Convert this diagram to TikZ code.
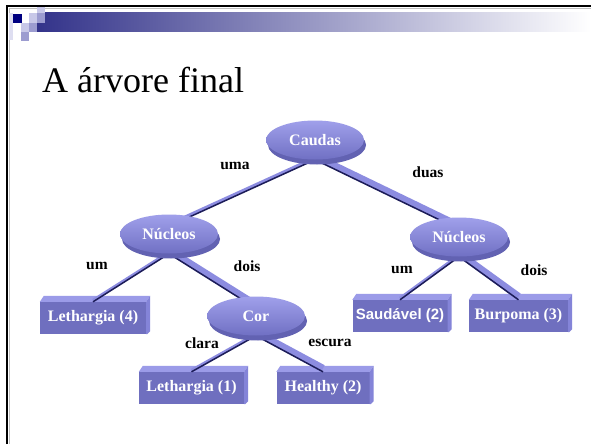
\documentclass[tikz,border=0pt]{standalone}
\usepackage{fontspec}
\setmainfont{Liberation Serif}
\newfontfamily\arialfont{Liberation Sans}
\usetikzlibrary{shapes.geometric,shadows}

\pgfdeclarelayer{paper}
\pgfdeclarelayer{boxes}
\pgfdeclarelayer{branches}
\pgfsetlayers{paper,boxes,branches,main}

\definecolor{headnavy}{HTML}{000080}
\definecolor{headlight}{HTML}{C8C8E8}
\definecolor{headmid}{HTML}{9C9CD0}
\definecolor{boxfront}{HTML}{6F6FBF}
\definecolor{boxtop}{HTML}{9B9BE8}
\definecolor{boxside}{HTML}{8484D8}
\definecolor{elltop}{HTML}{A0A0EA}
\definecolor{ellbot}{HTML}{7070C4}
\definecolor{ellrim}{HTML}{6262B2}
\definecolor{barlightc}{HTML}{8C8CE0}
\definecolor{bardarkc}{HTML}{1C1C58}

\tikzset{
  ellnode/.style={ellipse, minimum width=98pt, minimum height=39pt, inner sep=0pt,
    top color=elltop, bottom color=ellbot, text=white,
    font=\bfseries\fontsize{16}{18}\selectfont,
    drop shadow={shadow xshift=2pt, shadow yshift=-5pt, opacity=1, fill=ellrim}},
  leaf/.style={rectangle, fill=boxfront, text=white, minimum height=32pt, inner sep=0pt,
    font=\bfseries\fontsize{16}{18}\selectfont},
  lbl/.style={font=\bfseries\fontsize{15.5}{18}\selectfont, text=black, inner sep=0pt},
  barlight/.style={draw=barlightc, line cap=butt},
  bardark/.style={draw=bardarkc, line width=1.5pt},
}

% extruded top and right faces of a leaf box
\newcommand\boxfaces[1]{%
  \fill[boxtop] (#1.north west) -- ++(4pt,6pt) -- ([shift={(4pt,6pt)}]#1.north east)
    -- (#1.north east) -- cycle;
  \fill[boxside] (#1.north east) -- ++(4pt,6pt) -- ([shift={(4pt,3pt)}]#1.south east)
    -- ([xshift=1pt]#1.south east) -- (#1.south east) -- cycle;
}

% a branch: light band with a dark line along its lower edge
\newcommand\branch[3]{%
  \draw[barlight, line width=#3pt] ([yshift=#3*0.5pt]#1) -- ([yshift=#3*0.5pt]#2);
  \draw[bardark] (#1) -- (#2);
}

\begin{document}
\begin{tikzpicture}[x=1pt, y=-1pt]
\useasboundingbox (0,0) rectangle (591,444);
\begin{pgfonlayer}{paper}
  \fill[white] (0,0) rectangle (591,444);
\end{pgfonlayer}

% slide frame
\draw[gray!50, line width=0.8pt] (9,444) -- (9,8.5) -- (591,8.5);
\draw[black, line width=2pt] (7,444) -- (7,6) -- (591,6);

% title bar
\shade[left color=headnavy!85!black!80, middle color=black!32!headlight, right color=white]
  (37,13) rectangle (591,32);
\fill[headlight!60] (9,13) rectangle (13,40);
\fill[headnavy] (13,14) rectangle (22,23);
\fill[headlight] (29,13) rectangle (37,23);
\fill[headlight] (37,7) rectangle (45,13);
\fill[headmid] (37,13) rectangle (45,23);
\fill[headlight] (21,23) rectangle (29,32);
\fill[headmid] (29,23) rectangle (37,32);
\fill[headmid] (21,32) rectangle (29,41);

\node[anchor=base west, inner sep=0pt, font=\fontsize{36}{40}\selectfont] (title)
  at (42,92) {A árvore final};

% inner nodes
\node[ellnode] (caudas) at (315,140) {Caudas};
\node[ellnode] (nucL) at (169,234) {Núcleos};
\node[ellnode] (nucR) at (459,237) {Núcleos};
\node[ellnode] (cor) at (256,316) {Cor};

% points inside the ellipses where incoming branches end
\coordinate (nucL-in) at ([yshift=-12pt]nucL.north);
\coordinate (nucR-in) at ([yshift=-12pt]nucR.north);
\coordinate (cor-in) at ([yshift=-12pt]cor.north);

% leaves
\begin{pgfonlayer}{boxes}
  \node[leaf, minimum width=106pt] (leth4) at (93,318) {Lethargia (4)};
  \node[leaf, minimum width=95pt, font=\arialfont\bfseries\fontsize{15}{18}\selectfont]
    (saud) at (400,316) {Saudável (2)};
  \node[leaf, minimum width=99pt] (burp) at (518.5,316) {Burpoma (3)};
  \node[leaf, minimum width=105pt] (leth1) at (191.5,388) {Lethargia (1)};
  \node[leaf, minimum width=93pt] (healthy) at (323,388) {Healthy (2)};
  \boxfaces{leth4}
  \boxfaces{saud}
  \boxfaces{burp}
  \boxfaces{leth1}
  \boxfaces{healthy}
\end{pgfonlayer}

% branches
\begin{pgfonlayer}{branches}
  \branch{caudas.south}{nucL-in}{3.5}
  \branch{caudas.south}{nucR-in}{7}
  \branch{nucL.south}{leth4.north}{3}
  \branch{nucL.south}{cor-in}{7}
  \branch{cor.south}{leth1.north}{3}
  \branch{cor.south}{healthy.north}{7}
  \branch{nucR.south}{saud.north}{3}
  \branch{nucR.south}{burp.north}{7}
\end{pgfonlayer}

% branch labels
\node[lbl] (l-uma) at (235,166) {uma};
\node[lbl] (l-duas) at (428,172) {duas};
\node[lbl] (l-um1) at (97,266) {um};
\node[lbl] (l-dois1) at (247,266) {dois};
\node[lbl] (l-um2) at (402,270) {um};
\node[lbl] (l-dois2) at (534,270) {dois};
\node[lbl] (l-clara) at (202,343) {clara};
\node[lbl] (l-escura) at (330,343) {escura};
\end{tikzpicture}
\end{document}
